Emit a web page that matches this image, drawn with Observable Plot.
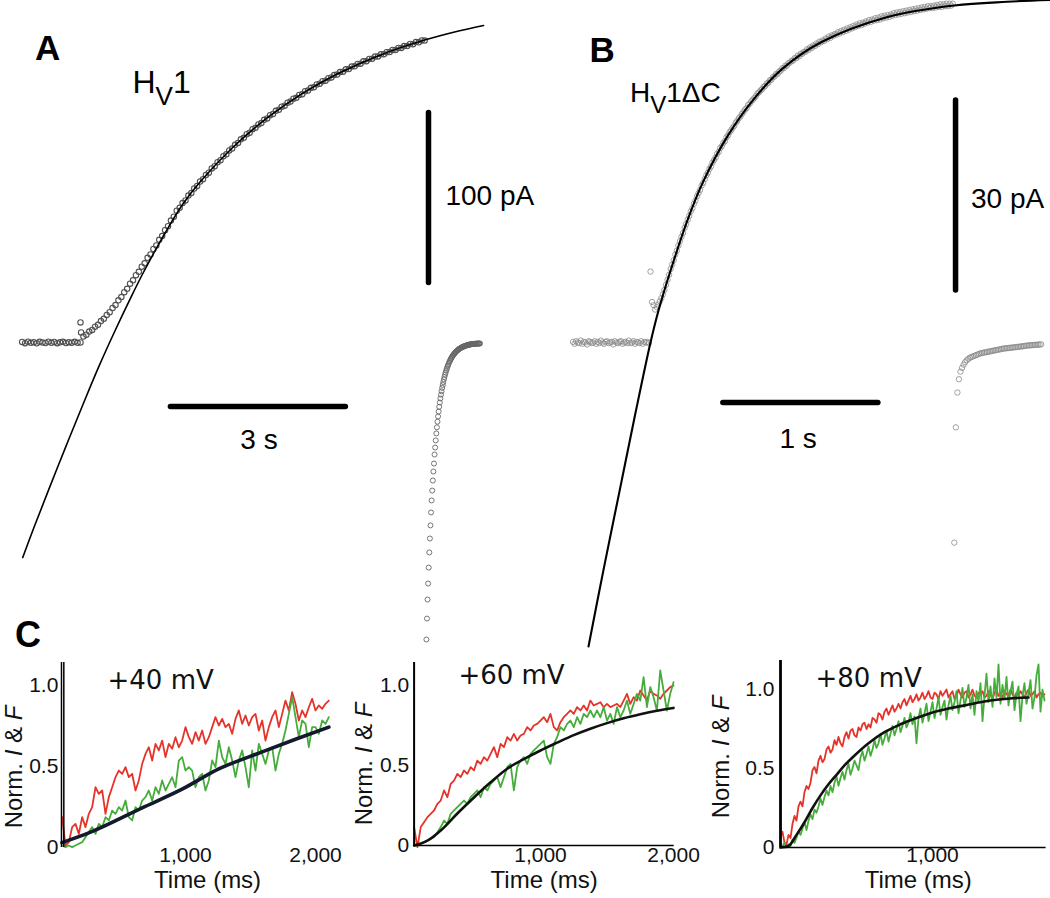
<!DOCTYPE html>
<html><head><meta charset="utf-8">
<script src="https://cdn.jsdelivr.net/npm/d3@7"></script>
<script src="https://cdn.jsdelivr.net/npm/@observablehq/plot@0.6"></script>
<style>
body{margin:0;background:#fff;}
#fig{position:relative;width:1050px;height:898px;overflow:hidden;background:#fff;}
.pane{position:absolute;}
.lbl{position:absolute;white-space:nowrap;line-height:1;color:#000;}
.ylab{position:absolute;white-space:nowrap;line-height:1;color:#111;transform:translate(-50%,-50%) rotate(-90deg);}
</style></head><body><div id="fig"></div>
<script>
// ================= DATA =================
// ---- Panel A (Hv1): current in pA vs time in s ----
const aTraceStart = -1.00, aTraceStep = 0.05;
const aTraceValues = [
 0.3,-0.4,0.5,-0.2,0.2,-0.5,0.4,0,-0.3,0.5,-0.2,0.3,-0.4,0.1,0.4,-0.3,0.2,-0.1,0.4,-0.2,
 0,
 3.5,4.6,6.4,7.4,9.3,10.4,12.6,13.9,16.2,17.8,20.3,22.0,24.8,26.7,29.6,31.6,34.6,36.6,39.6,41.6,
 44.6,46.6,49.8,51.8,55.0,57.1,60.4,62.6,66.1,68.4,71.7,74.0,77.5,79.2,82.0,83.6,86.4,87.9,90.6,92.1,
 94.7,96.1,98.6,99.9,102.4,103.7,106.1,107.2,109.6,110.7,113.0,114.1,116.3,117.3,119.5,120.4,122.5,123.4,125.5,126.3,
 128.3,129.1,131.0,131.8,133.7,134.4,136.3,136.9,138.7,139.3,141.1,141.7,143.4,143.9,145.6,146.1,147.8,148.2,149.8,150.2,
 151.8,152.2,153.7,154.0,155.5,155.9,157.3,157.6,159.1,159.3,160.7,160.9,162.3,162.5,163.9,164.0,165.4,165.5,166.8,166.9,
 168.2,168.3,169.5,169.6,170.8,170.9,172.1,172.1,173.3,173.3,174.4,174.4,175.6,175.5,176.7,176.6,177.7,177.6
];
const aOutlierT = [0.0, 0.01];
const aOutlierI = [11.8, 5.9];
const aTailStart = 5.93, aTailStep = 0.01;
const aTailValues = [
 -174.7,-162.4,-151.2,-141.8,-132.4,-123.5,-115.3,-107.6,-100.0,-92.9,-87.1,-81.2,-75.9,-71.2,-65.9,-61.8,-57.6,-53.5,
 -49.9,-46.6,-43.5,-40.6,-37.8,-35.3,-32.9,-30.7,-28.7,-26.7,-25.0,-23.3,-21.7,-20.3,-18.9,-17.7,-16.5,-15.4,-14.4,-13.5,
 -12.6,-11.8,-11.0,-10.3,-9.6,-9.0,-8.4,-7.9,-7.4,-6.9,-6.5,-6.1,-5.7,-5.3,-5.0,-4.7,-4.4,-4.1,-3.8,-3.6,-3.4,-3.2,-3.0,
 -2.8,-2.6,-2.5,-2.3,-2.2,-2.0,-1.9,-1.8,-1.7,-1.6,-1.5,-1.4,-1.3,-1.2,-1.1,-1.1,-1.0,-1.0,-0.9,-0.9,-0.8,-0.8,-0.8,
 -0.7,-0.7,-0.7,-0.7,-0.6,-0.6,-0.6,-0.6,-0.6
];
const aFitT = [-0.99,-0.80,-0.55,-0.26,0.03,0.31,0.60,0.85,1.06,1.46,1.75,2.06,2.60,3.20,3.80,4.40,5.10,5.90,6.50,6.91];
const aFitI = [-126.5,-109,-87,-62,-37.5,-14.5,7.5,25.5,40,65,81.2,94.8,114.4,132.1,146.4,157.9,168.6,177.9,183.4,186.5];
const aTimeBar = [1.55, 4.55, -37.6];      // t1, t2 (s), at current (pA)
const aCurrentBar = [35, 135, 5.966];     // i1, i2 (pA), at time (s)
const aBarLabels = ["3 s", "100 pA"];
const aBarLabelT = [3.06, 6.257];
const aBarLabelI = [-57.1, 86.2];

// ---- Panel B (Hv1ΔC): current in pA vs time in s ----
const bTraceStart = -0.50, bTraceStep = 0.01;
const bTraceValues = [
 0.1,-0.2,0.2,0.0,-0.1,0.3,-0.2,0.1,0.0,-0.3,0.2,0.1,-0.1,0.0,0.2,-0.2,0.1,-0.1,0.3,0.0,
 -0.2,0.1,0.2,-0.1,0.0,0.1,-0.3,0.2,0.0,-0.1,0.1,0.2,-0.2,0.0,0.1,-0.1,0.3,-0.1,0.0,0.2,
 -0.2,0.1,0.0,-0.1,0.2,-0.2,0.1,0.0,0.1,-0.1,
 11.2,6.4,5.9,5.2,5.6,6.0,6.5,7.0,7.6,8.3,
 9.1,9.9,10.7,11.6,12.3,13.0,13.9,14.5,15.3,16.0,
 16.7,17.3,18.1,18.7,19.4,20.0,20.7,21.2,21.9,22.4,
 23.1,23.6,24.1,24.8,25.2,25.8,26.4,26.8,27.4,27.8,
 28.4,28.8,29.2,29.8,30.1,30.7,31.0,31.5,31.8,32.4,
 32.7,33.2,33.5,33.9,34.2,34.7,35.0,35.4,35.7,36.1,
 36.4,36.8,37.0,37.5,37.7,38.1,38.3,38.6,38.9,39.3,
 39.5,39.8,40.0,40.4,40.5,40.9,41.0,41.4,41.5,41.9,
 42.0,42.4,42.4,42.8,42.9,43.3,43.3,43.7,43.7,44.1,
 44.2,44.5,44.5,44.9,44.9,45.3,45.2,45.6,45.6,45.9,
 45.9,46.3,46.2,46.6,46.5,46.9,46.8,47.2,47.1,47.5,
 47.4,47.7,47.6,48.0,47.9,48.3,48.1,48.5,48.4,48.7,
 48.6,49.0,48.8,49.2,49.0,49.4,49.2,49.6,49.4,49.8,
 49.6,50.0,49.8,50.2,50.0,50.4,50.1,50.5,50.3,50.7,
 50.5,50.9,50.6,51.0,50.8,51.2,50.9,51.3,51.0,51.5,
 51.2,51.6,51.3,51.7,51.4,51.8,51.6,52.0,51.7,52.1,
 51.8,52.2,51.9,52.3,52.0,52.4,52.1,52.5,52.2,52.6,
 52.3,52.7,52.4,52.8,52.5,52.9,52.6,53.0,52.7,53.1,
 52.8,53.1,52.8,53.2,52.9,53.3,53.0,53.4,53.0,53.4,
 53.1,53.5,53.1,53.5,53.2,53.5,
 -31.6,-13.4,-7.9,-5.8,
 -4.6,-4.0,-3.5,-3.1,-2.8,-2.6,-2.4,-2.3,-2.2,-2.1,-2.0,-1.9,-1.8,-1.7,-1.65,-1.6,-1.55,-1.5,-1.45,-1.4,
 -1.35,-1.3,-1.25,-1.2,-1.15,-1.1,-1.05,-1.0,-0.95,-0.92,-0.9,-0.87,-0.84,-0.81,-0.78,-0.75,-0.72,-0.69,
 -0.66,-0.63,-0.6,-0.56,-0.52,-0.48,-0.46,-0.44,-0.42,-0.4,-0.38,-0.36,-0.34,-0.32,-0.3
];
const bFitT = [-0.40,-0.30,-0.20,-0.10,0.00,0.05,0.13,0.24,0.34,0.50,0.665,0.85,1.10,1.53,1.96,2.30,2.58];
const bFitI = [-48,-35.5,-23.5,-11.5,0,4.9,11.4,19.4,25.4,32.7,38.4,43.2,47.4,51.4,53.2,53.8,54.1];
const bTimeBar = [0.47, 1.47, -9.47];
const bCurrentBar = [8.2, 38.2, 1.968];
const bBarLabels = ["1 s", "30 pA"];
const bBarLabelT = [0.952, 2.068];
const bBarLabelI = [-15.2, 22.6];

// ---- Panel C: normalized I (red) and F (green), time in ms ----
const cTitles = ["+40 mV", "+60 mV", "+80 mV"];
const cYTicks = [0, 0.5, 1.0];

const c40Start = 51.3, c40Step = 25.64;
const c40Current = [
 0.187,0.012,0.033,0.126,0.146,0.084,0.187,0.126,0.208,0.249,
 0.372,0.331,0.352,0.208,0.311,0.372,0.434,0.475,0.455,0.496,
 0.434,0.455,0.352,0.414,0.516,0.578,0.619,0.537,0.640,0.599,
 0.660,0.558,0.640,0.609,0.681,0.619,0.660,0.743,0.681,0.640,
 0.712,0.660,0.722,0.640,0.681,0.743,0.805,0.753,0.794,0.743,
 0.763,0.702,0.794,0.846,0.763,0.815,0.753,0.805,0.825,0.722,
 0.784,0.660,0.743,0.805,0.846,0.743,0.825,0.907,0.846,0.959,
 0.887,0.784,0.846,0.805,0.866,0.918,0.846,0.877,0.856,0.887,0.907
];
const c40Fluor = [
 0.012,0.002,0.012,0.002,0.012,0.023,0.033,0.064,0.095,0.126,
 0.084,0.146,0.126,0.187,0.167,0.228,0.208,0.249,0.228,0.290,
 0.187,0.167,0.249,0.228,0.290,0.311,0.352,0.290,0.372,0.331,
 0.414,0.352,0.393,0.434,0.372,0.537,0.558,0.475,0.496,0.475,
 0.372,0.434,0.455,0.352,0.414,0.537,0.496,0.660,0.558,0.516,
 0.619,0.537,0.434,0.537,0.599,0.496,0.372,0.599,0.475,0.640,
 0.578,0.516,0.599,0.619,0.475,0.578,0.640,0.722,0.825,0.928,
 0.805,0.681,0.784,0.763,0.619,0.743,0.743,0.702,0.784,0.763,0.805
];
const c40FitT = [50,256,667,974,1256,1590,1846,2103];
const c40FitV = [0.03,0.09,0.245,0.36,0.485,0.59,0.668,0.743];

const c60Start = 50, c60Step = 25;
const c60Current = [
 0.115,-0.010,0.115,0.146,0.177,0.198,0.219,0.260,0.281,0.344,
 0.302,0.385,0.406,0.448,0.427,0.469,0.448,0.490,0.469,0.531,
 0.510,0.552,0.531,0.573,0.615,0.552,0.635,0.615,0.677,0.656,
 0.698,0.656,0.688,0.698,0.740,0.719,0.750,0.760,0.781,0.802,
 0.771,0.823,0.740,0.719,0.771,0.802,0.823,0.844,0.823,0.865,
 0.844,0.875,0.844,0.906,0.875,0.885,0.896,0.865,0.885,0.865,
 0.875,0.885,0.865,0.906,0.948,0.885,0.927,0.906,0.969,0.938,
 0.906,0.969,0.948,0.938,0.917,0.948,0.969,0.990,1.000
];
const c60Fluor = [
 0,0,0.010,0.021,0.031,0.042,0.052,0.083,0.115,0.156,
 0.135,0.198,0.219,0.240,0.260,0.281,0.260,0.302,0.323,0.344,
 0.302,0.365,0.344,0.385,0.406,0.427,0.365,0.427,0.490,0.510,
 0.344,0.490,0.531,0.552,0.510,0.573,0.594,0.615,0.635,0.656,
 0.552,0.510,0.635,0.677,0.740,0.719,0.760,0.781,0.740,0.802,
 0.760,0.823,0.802,0.844,0.802,0.844,0.802,0.865,0.781,0.823,
 0.760,0.865,0.802,0.844,0.906,0.823,0.885,0.948,0.906,1.052,
 0.865,0.990,0.927,0.844,1.094,0.969,0.844,0.948,1.021
];
const c60FitT = [50,150,250,375,500,625,750,875,1000,1125,1250,1375,1500,1625,1750,1875,2000];
const c60FitV = [0,0.03,0.094,0.2,0.3,0.395,0.48,0.54,0.594,0.643,0.69,0.73,0.765,0.795,0.82,0.842,0.86];

const c80Start = 50, c80Step = 12.5;
const c80Current = [
 0.07,0.10,0.03,0.02,0.08,0.06,0.15,0.20,0.17,0.26,
 0.29,0.26,0.35,0.39,0.37,0.41,0.49,0.51,0.47,0.55,
 0.58,0.54,0.56,0.62,0.64,0.60,0.62,0.68,0.65,0.70,
 0.66,0.64,0.70,0.73,0.69,0.74,0.75,0.71,0.70,0.76,
 0.74,0.78,0.79,0.75,0.78,0.76,0.82,0.81,0.79,0.85,
 0.84,0.81,0.86,0.88,0.84,0.87,0.90,0.86,0.88,0.91,
 0.88,0.92,0.94,0.90,0.93,0.96,0.92,0.94,0.97,0.93,
 0.95,0.98,0.94,0.96,0.99,0.95,0.94,0.98,0.97,0.94,
 0.99,0.96,0.98,1.00,0.95,0.97,0.99,0.94,0.96,1.00,
 0.97,0.95,0.98,0.99,0.95,0.97,1.00,0.96,0.95,0.98,
 0.97,0.99,0.95,0.96,0.99,0.97,0.94,0.98,1.00,0.96,
 0.97,0.95,0.99,0.97,0.96,1.00,0.97,0.95,0.98,0.96,
 0.99,0.97,0.95,0.98,1.00,0.96,0.97,0.99,0.95,0.97,
 0.98,0.96,0.97
];
const c80Fluor = [
 0.00,0.01,0.03,0.00,0.02,0.01,0.05,0.03,0.06,0.10,
 0.08,0.12,0.16,0.11,0.17,0.21,0.18,0.24,0.22,0.26,
 0.31,0.27,0.32,0.36,0.33,0.39,0.35,0.41,0.45,0.39,
 0.44,0.48,0.43,0.49,0.53,0.46,0.50,0.55,0.52,0.49,
 0.57,0.61,0.55,0.59,0.64,0.58,0.62,0.68,0.63,0.66,
 0.72,0.65,0.69,0.74,0.67,0.72,0.77,0.71,0.75,0.80,
 0.73,0.77,0.82,0.76,0.79,0.85,0.78,0.83,0.66,0.82,
 0.88,0.79,0.85,0.91,0.80,0.86,0.92,0.82,0.88,0.95,
 0.84,0.89,0.93,0.81,0.90,0.96,0.87,0.92,0.99,0.85,
 0.93,1.01,0.89,0.95,1.03,0.88,0.97,0.84,0.99,0.92,
 1.04,0.80,0.96,1.10,0.92,1.02,0.89,1.07,0.95,1.16,
 0.91,1.03,0.94,1.08,0.90,0.99,1.05,0.87,0.97,1.02,
 0.80,0.96,1.04,0.91,0.98,1.06,0.88,0.95,1.09,1.16,
 0.86,1.00,0.93
];
const c80FitT = [50,100,150,200,250,300,350,400,450,500,600,700,800,900,1000,1100,1200,1300,1400,1500,1600];
const c80FitV = [0,0.01,0.08,0.16,0.25,0.33,0.40,0.46,0.52,0.57,0.66,0.73,0.78,0.82,0.855,0.88,0.90,0.92,0.935,0.945,0.95];

// ================= DRAWING =================
const fontSans = "'Liberation Sans', Arial, Helvetica, sans-serif";
const fontWide = "'DejaVu Sans', Verdana, sans-serif";
const RED = "#e5332a", GREEN = "#45ad3a";

const rows = (start, step, values) => values.map((v, i) => ({t: start + i * step, v}));
const pairs = (ts, vs) => ts.map((t, i) => ({t, v: vs[i]}));
const fig = document.getElementById("fig");

function place(node, left, top) {
  const d = document.createElement("div");
  d.className = "pane";
  d.style.left = left + "px"; d.style.top = top + "px";
  d.appendChild(node); fig.appendChild(d);
}
function label(html, left, baseline, size, extra = "") {
  const d = document.createElement("div");
  d.className = "lbl";
  d.style.cssText += `left:${left}px;top:${baseline - 0.8465 * size}px;font-size:${size}px;font-family:${fontSans};${extra}`;
  d.innerHTML = html; fig.appendChild(d);
}
function ylabel(cx, cy) {
  const d = document.createElement("div");
  d.className = "ylab";
  d.style.cssText += `left:${cx}px;top:${cy}px;font-size:24px;font-family:${fontSans};`;
  d.innerHTML = "Norm. <i>I</i> &amp; <i>F</i>"; fig.appendChild(d);
}

function tracePanel({width, xDomain, yDomain, trace, extraDots, tail, fit, fitWidth, dotStroke, dotWidth, timeBar, currentBar, barLabels, barLabelT, barLabelI}) {
  const labels = barLabels.map((s, i) => ({t: barLabelT[i], v: barLabelI[i], s, anchor: i === 0 ? "middle" : "start"}));
  return Plot.plot({
    width, height: 660, margin: 0,
    x: {domain: xDomain, axis: null},
    y: {domain: yDomain, axis: null},
    style: {background: "transparent", overflow: "visible", fontFamily: fontSans},
    marks: [
      Plot.dot(trace, {x: "t", y: "v", r: 2.7, stroke: dotStroke, strokeWidth: dotWidth, fill: "none"}),
      Plot.dot(extraDots, {x: "t", y: "v", r: 2.7, stroke: dotStroke, strokeWidth: dotWidth, fill: "none"}),
      Plot.dot(tail, {x: "t", y: "v", r: 2.5, stroke: "#666", strokeWidth: 0.9, fill: "none"}),
      Plot.line(fit, {x: "t", y: "v", curve: "catmull-rom", stroke: "#000", strokeWidth: fitWidth}),
      Plot.ruleY([{y: timeBar[2], x1: timeBar[0], x2: timeBar[1]}], {y: "y", x1: "x1", x2: "x2", stroke: "#000", strokeWidth: 5.5, strokeLinecap: "round"}),
      Plot.ruleX([{x: currentBar[2], y1: currentBar[0], y2: currentBar[1]}], {x: "x", y1: "y1", y2: "y2", stroke: "#000", strokeWidth: 5.5, strokeLinecap: "round"}),
      Plot.text(labels.filter(d => d.anchor === "middle"), {x: "t", y: "v", text: "s", textAnchor: "middle", fontSize: 28, fill: "#000"}),
      Plot.text(labels.filter(d => d.anchor === "start"), {x: "t", y: "v", text: "s", textAnchor: "start", fontSize: 28, fill: "#000"})
    ]
  });
}

function cPanel({width, marginLeft, marginRight, marginTop, marginBottom, xDomain, yMax, xTicks, current, fluor, fit, fitWidth, fitColor, title, titleAt, axisLines, xAxisLine, axisWidth, tickPadX, tickPadY, timeDx, timeDy}) {
  const marks = [
    Plot.line(current, {x: "t", y: "v", stroke: RED, strokeWidth: 1.8}),
    Plot.line(fluor, {x: "t", y: "v", stroke: GREEN, strokeWidth: 1.8}),
    Plot.line(fit, {x: "t", y: "v", curve: "monotone-x", stroke: fitColor, strokeWidth: fitWidth}),
    Plot.ruleX(axisLines, {stroke: "#000", strokeWidth: axisWidth}),
    Plot.text([{t: titleAt[0], v: titleAt[1], s: title}], {x: "t", y: "v", text: "s", textAnchor: "start", fontSize: 26, fontFamily: fontWide, fill: "#111"}),
    Plot.text(["Time (ms)"], {text: d => d, frameAnchor: "bottom", dx: timeDx, dy: timeDy, fontSize: 24, fill: "#111"})
  ];
  if (xAxisLine) marks.push(Plot.ruleY([0], {stroke: "#000", strokeWidth: 1.3}));
  return Plot.plot({
    width, height: 258, marginLeft, marginRight, marginTop, marginBottom,
    x: {domain: xDomain, ticks: xTicks, tickFormat: d3.format(","), tickSize: 0, tickPadding: tickPadX, label: null},
    y: {domain: [0, yMax], ticks: cYTicks, tickFormat: d => d === 0 ? "0" : d.toFixed(1), tickSize: 0, tickPadding: tickPadY, label: null},
    style: {background: "transparent", overflow: "visible", fontFamily: fontSans, fontSize: "21px", color: "#111"},
    marks
  });
}

// ---- Panel C plots (drawn first, underneath) ----
place(cPanel({
  width: 345, marginLeft: 60.85, marginRight: 15.7, marginTop: 22, marginBottom: 51,
  xDomain: [45, 2110], yMax: 1.142, xTicks: [1000, 2000],
  current: rows(c40Start, c40Step, c40Current), fluor: rows(c40Start, c40Step, c40Fluor),
  fit: pairs(c40FitT, c40FitV), fitWidth: 3.6, fitColor: "#141a2e",
  title: cTitles[0], titleAt: [400, 1.03], axisLines: [46, 64], xAxisLine: false, axisWidth: 1.5,
  tickPadX: 0, tickPadY: 3, timeDx: 12, timeDy: 40
}), 0, 640);
place(cPanel({
  width: 350, marginLeft: 68.6, marginRight: 21.3, marginTop: 22, marginBottom: 53,
  xDomain: [50, 2005], yMax: 1.144, xTicks: [1000, 2000],
  current: rows(c60Start, c60Step, c60Current), fluor: rows(c60Start, c60Step, c60Fluor),
  fit: pairs(c60FitT, c60FitV), fitWidth: 2.6, fitColor: "#111",
  title: cTitles[1], titleAt: [383, 1.06], axisLines: [50], xAxisLine: true, axisWidth: 2,
  tickPadX: 2, tickPadY: 5, timeDx: 0, timeDy: 42
}), 345, 640);
place(cPanel({
  width: 355, marginLeft: 85, marginRight: 4.4, marginTop: 20, marginBottom: 51,
  xDomain: [50, 1710], yMax: 1.184, xTicks: [1000],
  current: rows(c80Start, c80Step, c80Current), fluor: rows(c80Start, c80Step, c80Fluor),
  fit: pairs(c80FitT, c80FitV), fitWidth: 2.6, fitColor: "#111",
  title: cTitles[2], titleAt: [269, 1.07], axisLines: [50], xAxisLine: true, axisWidth: 2.8,
  tickPadX: 0, tickPadY: 6, timeDx: 5, timeDy: 40
}), 695, 640);

// ---- Panel A ----
place(tracePanel({
  width: 520, xDomain: [-1.3715, 7.5433], yDomain: [-187.06, 201.18],
  trace: rows(aTraceStart, aTraceStep, aTraceValues), extraDots: pairs(aOutlierT, aOutlierI),
  tail: rows(aTailStart, aTailStep, aTailValues), fit: pairs(aFitT, aFitI), fitWidth: 1.6,
  dotStroke: "#505050", dotWidth: 1.1, timeBar: aTimeBar, currentBar: aCurrentBar,
  barLabels: aBarLabels, barLabelT: aBarLabelT, barLabelI: aBarLabelI
}), 0, 0);

// ---- Panel B ----
place(tracePanel({
  width: 530, xDomain: [-0.8387, 2.5806], yDomain: [-50.21, 54.0],
  trace: rows(bTraceStart, bTraceStep, bTraceValues), extraDots: [],
  tail: [], fit: pairs(bFitT, bFitI), fitWidth: 2.1,
  dotStroke: "#8a8a8a", dotWidth: 0.8, timeBar: bTimeBar, currentBar: bCurrentBar,
  barLabels: bBarLabels, barLabelT: bBarLabelT, barLabelI: bBarLabelI
}), 520, 0);

// ---- Text labels ----
label("A", 35, 60, 35, "font-weight:bold;");
label("B", 589.4, 62, 35, "font-weight:bold;");
label("C", 15, 647, 36, "font-weight:bold;");
label('H<span style="font-size:26px;position:relative;top:12px;">V</span>1', 132.5, 93, 32);
label('H<span style="font-size:24px;position:relative;top:11px;">V</span>1ΔC', 630, 103, 28);
ylabel(14, 767);
ylabel(364, 764);
ylabel(721, 757);
</script></body></html>
